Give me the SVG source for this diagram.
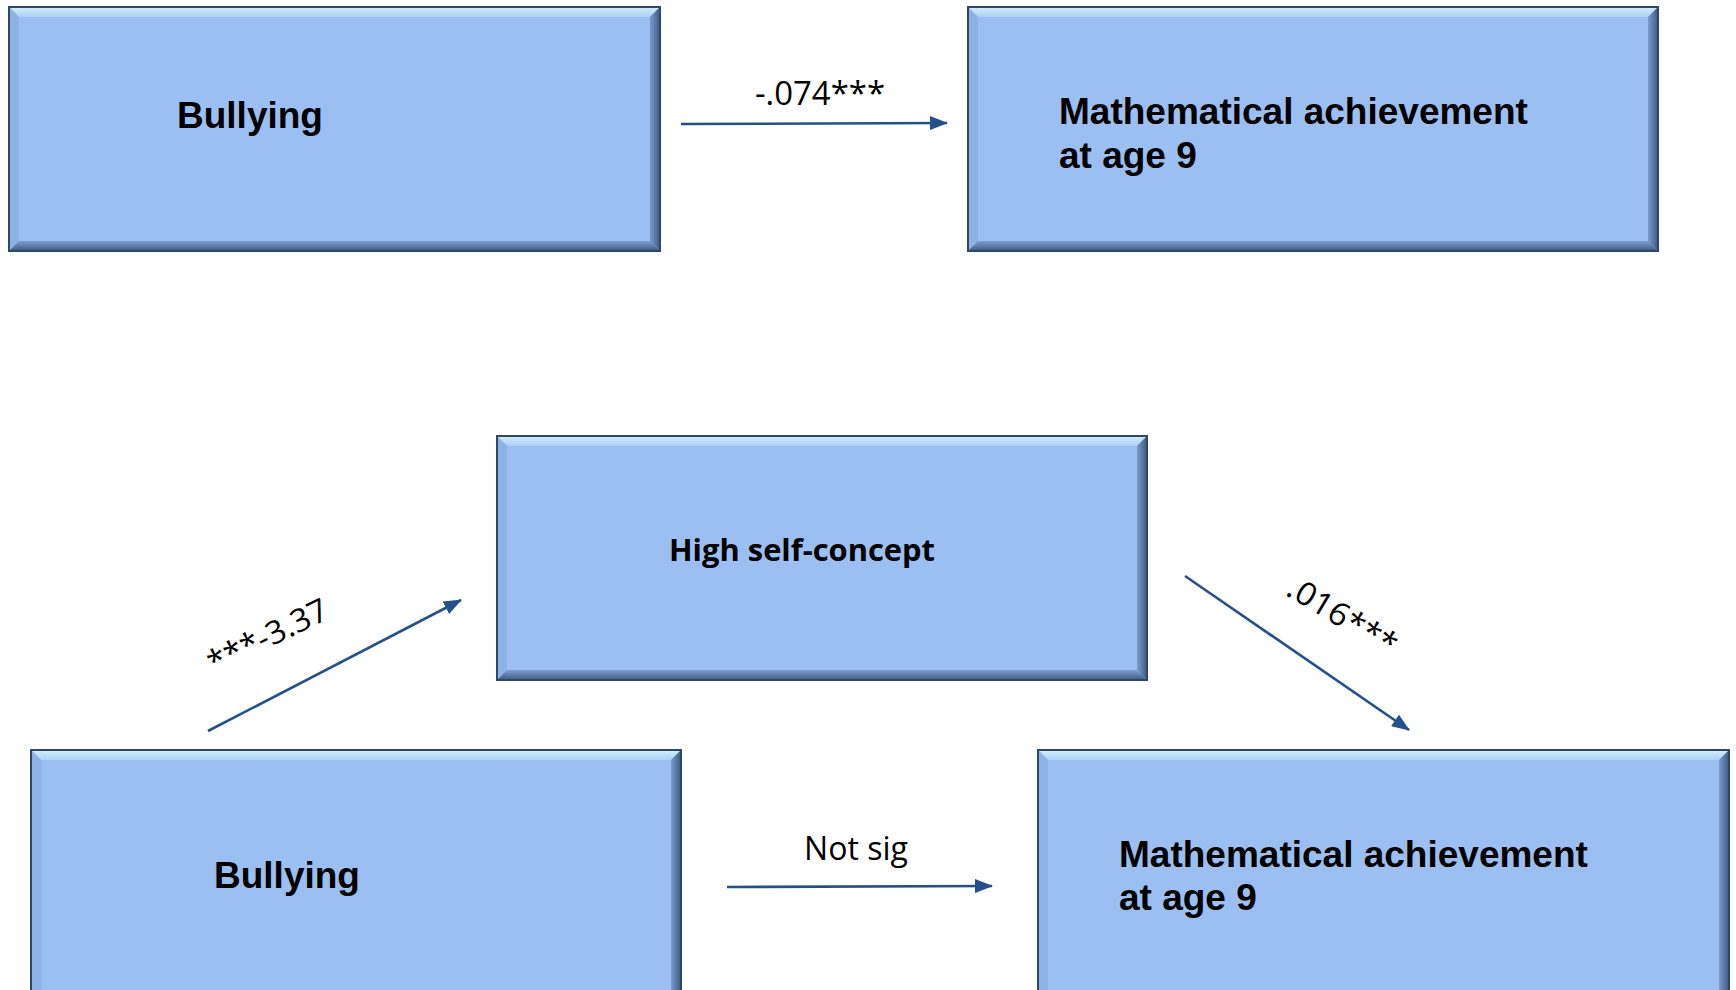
<svg xmlns="http://www.w3.org/2000/svg" width="1736" height="990" viewBox="0 0 1736 990">
<defs>
<style>
.face{fill:#9bbff1}
.bt{fill:url(#gTop)}
.bl{fill:#8db2e4}
.br{fill:url(#gRight)}
.bb{fill:url(#gBot)}
.edge{fill:none;stroke:#2f4868;stroke-width:2}
.nt{font-family:"Liberation Sans",Arial,sans-serif;font-weight:bold;font-size:37px;fill:#000}
.nc{font-family:"Open Sans","Noto Sans",sans-serif;font-weight:bold;font-size:31px;fill:#000}
.lbl{font-family:"Open Sans","Noto Sans",sans-serif;font-size:32px;fill:#000}
.conn{stroke:#25518a;stroke-width:2.6;fill:none;marker-end:url(#arr)}
</style>
<linearGradient id="gTop" x1="0" y1="0" x2="0" y2="1">
<stop offset="0" stop-color="#d6ecfc"/><stop offset="1" stop-color="#a9d2f6"/>
</linearGradient>
<linearGradient id="gRight" x1="0" y1="0" x2="1" y2="0">
<stop offset="0" stop-color="#7a9ccc"/><stop offset="1" stop-color="#3e5a82"/>
</linearGradient>
<linearGradient id="gBot" x1="0" y1="0" x2="0" y2="1">
<stop offset="0" stop-color="#7d9fd0"/><stop offset="1" stop-color="#3f5a80"/>
</linearGradient>
<marker id="arr" markerUnits="userSpaceOnUse" markerWidth="18" markerHeight="14" refX="17" refY="7" orient="auto">
<path d="M0,0 L18,7 L0,14 Z" fill="#25518a"/>
</marker>
</defs>

<g id="bullying-top">
<rect class="face" x="9" y="7" width="651" height="244"/>
<polygon class="bt" points="9,7 660,7 650,17 19,17"/>
<polygon class="bl" points="9,7 19,17 19,241 9,251"/>
<polygon class="br" points="660,7 660,251 650,241 650,17"/>
<polygon class="bb" points="9,251 19,241 650,241 660,251"/>
<rect class="edge" x="9" y="7" width="651" height="244"/>
<text class="nt" x="177" y="128">Bullying</text>
</g>

<g id="math-top">
<rect class="face" x="968" y="7" width="690" height="244"/>
<polygon class="bt" points="968,7 1658,7 1648,17 978,17"/>
<polygon class="bl" points="968,7 978,17 978,241 968,251"/>
<polygon class="br" points="1658,7 1658,251 1648,241 1648,17"/>
<polygon class="bb" points="968,251 978,241 1648,241 1658,251"/>
<rect class="edge" x="968" y="7" width="690" height="244"/>
<text class="nt" x="1059" y="124">Mathematical achievement</text>
<text class="nt" x="1059" y="168">at age 9</text>
</g>

<g id="self-concept">
<rect class="face" x="497" y="436" width="650" height="244"/>
<polygon class="bt" points="497,436 1147,436 1137,446 507,446"/>
<polygon class="bl" points="497,436 507,446 507,670 497,680"/>
<polygon class="br" points="1147,436 1147,680 1137,670 1137,446"/>
<polygon class="bb" points="497,680 507,670 1137,670 1147,680"/>
<rect class="edge" x="497" y="436" width="650" height="244"/>
<text class="nc" x="669" y="561" textLength="266" lengthAdjust="spacingAndGlyphs">High self-concept</text>
</g>

<g id="bullying-bottom">
<rect class="face" x="31" y="750" width="650" height="260"/>
<polygon class="bt" points="31,750 681,750 671,760 41,760"/>
<polygon class="bl" points="31,750 41,760 41,1000 31,1010"/>
<polygon class="br" points="681,750 681,1010 671,1000 671,760"/>
<rect class="edge" x="31" y="750" width="650" height="260"/>
<text class="nt" x="214" y="888">Bullying</text>
</g>

<g id="math-bottom">
<rect class="face" x="1038" y="750" width="691" height="260"/>
<polygon class="bt" points="1038,750 1729,750 1719,760 1048,760"/>
<polygon class="bl" points="1038,750 1048,760 1048,1000 1038,1010"/>
<polygon class="br" points="1729,750 1729,1010 1719,1000 1719,760"/>
<rect class="edge" x="1038" y="750" width="691" height="260"/>
<text class="nt" x="1119" y="867">Mathematical achievement</text>
<text class="nt" x="1119" y="910">at age 9</text>
</g>

<g id="connectors">
<line class="conn" x1="681" y1="124" x2="947" y2="123"/>
<line class="conn" x1="727" y1="887" x2="992" y2="886"/>
<line class="conn" x1="208" y1="731" x2="461" y2="600"/>
<line class="conn" x1="1185" y1="576" x2="1409" y2="730"/>
<text class="lbl" x="820" y="105" text-anchor="middle" textLength="130" lengthAdjust="spacingAndGlyphs">-.074***</text>
<text class="lbl" x="856" y="860" text-anchor="middle" textLength="104" lengthAdjust="spacingAndGlyphs">Not sig</text>
<text class="lbl" x="268" y="647" text-anchor="middle" transform="rotate(-26 268 637)" textLength="130" lengthAdjust="spacingAndGlyphs">***-3.37</text>
<text class="lbl" x="1342" y="627" text-anchor="middle" transform="rotate(31 1342 617)" textLength="122" lengthAdjust="spacingAndGlyphs">.016***</text>
</g>
</svg>
